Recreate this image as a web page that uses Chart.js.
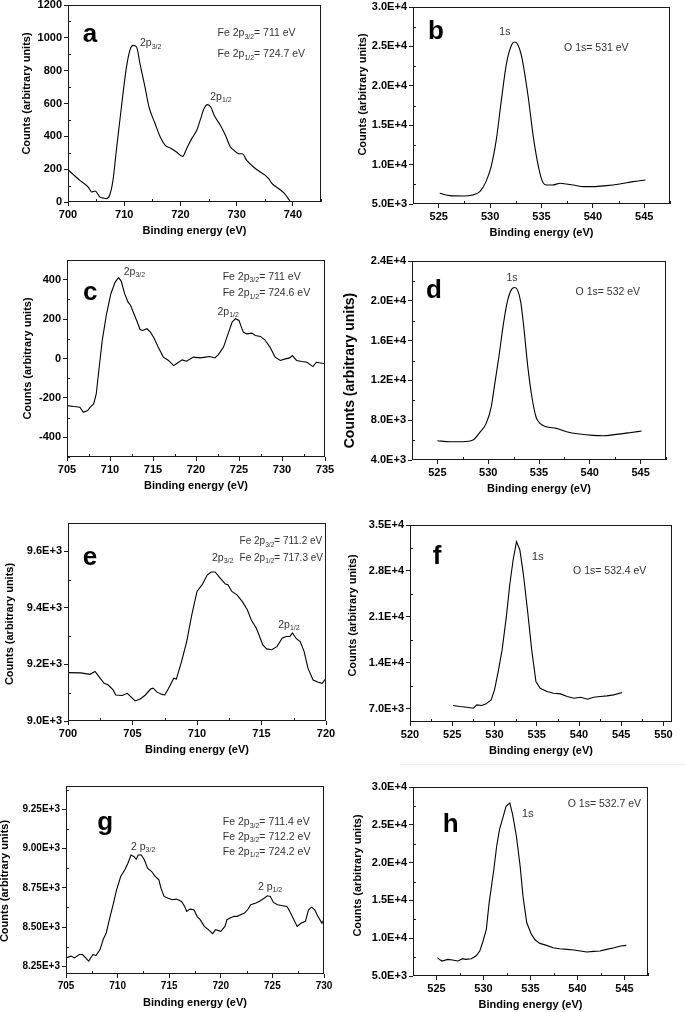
<!DOCTYPE html>
<html>
<head>
<meta charset="utf-8">
<script src="https://cdn.jsdelivr.net/npm/chart.js@4.4.1/dist/chart.umd.min.js"></script>
<style>
  html, body { margin: 0; padding: 0; background: #fff; }
  body { width: 685px; height: 1012px; position: relative; overflow: hidden; }
  canvas { position: absolute; }
  .rule { position: absolute; left: 400px; top: 764px; width: 285px; height: 1px; background: #ececec; }
</style>
</head>
<body>
<div class="rule"></div>
<script>
// XPS spectra, Fe 2p (left column) and O 1s (right column)
const FONT = '"Liberation Sans", Arial, sans-serif';

// a: Fe 2p
const aEnergy = [700,702.1,703.6,704.2,704.8,705.7,706.3,706.8,707.4,708,708.6,709.5,710.4,711.1,711.6,712.2,712.8,713.7,714.4,715.5,716.4,717.3,718.2,719.3,720.4,721.1,722,722.9,723.5,724.2,724.8,725.4,726,727.1,728,728.9,729.5,730.4,731,731.8,733,734.2,735.1,735.7,736.3,737.5,738.4,739.6];
const aCounts = [197,132,91,61,67,30,24,20,41,132,315,579,822,934,954,944,843,700,579,477,396,345,329,305,278,325,386,437,497,569,593,579,528,467,406,335,315,294,294,254,213,183,162,142,112,81,55,0];
const aXTicks = [700,710,720,730,740];
const aYTicks = [0,200,400,600,800,1000,1200];

// b: O 1s
const bEnergy = [525.1,526.1,527.4,528.3,529,529.6,530.1,530.6,531.1,531.6,532.1,532.4,532.7,533.1,533.7,534.2,534.7,535.1,535.5,536.1,536.8,537.4,538.1,539.1,540,541.3,542.6,543.9,545.1];
const bCounts = [6356,6059,6017,6144,6568,7839,9746,13135,18220,22880,25210,25550,25210,23515,18640,13560,9746,7839,7415,7415,7627,7542,7415,7203,7203,7330,7542,7839,8050];
const bXTicks = [525,530,535,540,545];
const bYTicks = [5000,10000,15000,20000,25000,30000];

// c: Fe 2p
const cEnergy = [705,705.8,706.5,706.9,707.4,707.7,708.1,708.4,708.7,709.1,709.6,710.1,710.6,711.0,711.3,711.7,712.1,712.4,712.7,713.1,713.5,713.8,714.3,714.7,715.1,715.6,716.2,716.8,717.4,717.8,718.4,718.9,719.7,720.5,721.1,721.6,722.2,722.6,723.2,723.8,724.2,724.6,725.0,725.2,725.5,725.9,726.5,726.9,727.5,728.0,728.6,729.2,729.8,730.4,730.9,731.2,731.7,732.3,732.9,733.6,734.0,735.0];
const cCounts = [-239,-244,-247,-273,-264,-247,-231,-180,-61,92,227,329,388,410,393,329,286,269,236,193,147,142,151,134,105,58,7,-10,-36,-24,-7,-14,7,3,7,10,3,20,58,134,185,202,193,168,134,125,129,117,112,95,58,7,-10,-2,3,15,-10,-15,-19,-41,-19,-27];
const cXTicks = [705,710,715,720,725,730,735];
const cYTicks = [-400,-200,0,200,400];

// d: O 1s
const dEnergy = [525,526.2,527.5,528.5,529.1,529.8,530.3,530.6,531.05,531.5,531.9,532.3,532.6,532.9,533.2,533.5,533.9,534.3,534.7,535.1,535.7,536.7,537.7,539.0,540.3,541.3,542.6,543.9,545.1];
const dCounts = [5940,5840,5840,6006,6675,7678,9350,11357,14366,17710,20000,21150,21330,21050,19900,17376,13363,10354,8347,7678,7344,7177,6842,6608,6474,6441,6575,6742,6909];
const dXTicks = [525,530,535,540,545];
const dYTicks = [4000,8000,12000,16000,20000,24000];

// e: Fe 2p
const eEnergy = [700,701,701.7,702.1,702.4,702.8,703.1,703.5,703.7,704.2,704.6,705.0,705.2,705.6,706.0,706.4,706.6,706.9,707.3,707.5,707.8,708.2,708.4,708.8,709.2,709.6,710.0,710.4,710.8,711.1,711.4,711.8,712.2,712.4,712.7,713.1,713.5,713.9,714.2,714.6,714.8,715.1,715.4,715.8,716.2,716.6,716.9,717.2,717.4,717.7,718.0,718.3,718.6,719.0,719.4,719.7,720.0];
const eCounts = [9171,9170,9165,9175,9157,9133,9128,9110,9092,9090,9098,9080,9071,9078,9092,9113,9116,9102,9094,9092,9116,9151,9148,9210,9281,9376,9458,9482,9517,9527,9527,9505,9484,9482,9458,9446,9423,9393,9358,9328,9305,9269,9255,9252,9263,9293,9299,9299,9311,9291,9281,9246,9187,9145,9137,9133,9151];
const eXTicks = [700,705,710,715,720];
const eYTicks = [9000,9200,9400,9600];

// f: O 1s
const fEnergy = [525.1,525.9,526.7,527.5,527.9,528.5,529.0,529.6,530.0,530.4,530.9,531.4,531.8,532.2,532.6,533.0,533.4,533.9,534.4,534.9,535.4,536.2,537.0,537.8,538.6,539.4,540.2,541.0,541.7,542.5,543.3,544.1,545.1];
const fCounts = [7507,7355,7254,7101,7609,7507,7761,8369,9891,12427,15977,21049,25868,29672,32462,31194,27643,22064,15977,11159,10145,9637,9384,9282,8877,8623,8775,8471,8775,8877,8978,9130,9485];
const fXTicks = [520,525,530,535,540,545,550];
const fYTicks = [7000,14000,21000,28000,35000];

// g: Fe 2p
const gEnergy = [705,705.5,705.8,706.3,706.6,706.9,707.2,707.6,707.9,708.3,708.6,708.9,709.2,709.6,709.9,710.3,710.7,711.0,711.3,711.6,711.8,712.0,712.3,712.6,712.9,713.3,713.6,714.0,714.2,714.5,714.9,715.3,715.7,716.2,716.5,716.7,717.0,717.4,717.7,718.0,718.4,718.8,719.2,719.5,720.0,720.4,720.6,720.9,721.3,721.6,721.9,722.3,722.6,722.9,723.4,723.7,724.2,724.5,724.8,725.1,725.5,726.0,726.4,726.6,727.0,727.4,727.8,728.2,728.5,728.8,729.1,729.4,729.8,730.0];
const gCounts = [8303,8314,8303,8324,8324,8303,8282,8324,8318,8356,8420,8462,8547,8653,8737,8822,8865,8907,8960,8949,8932,8960,8960,8928,8875,8854,8826,8801,8748,8695,8684,8674,8678,8663,8631,8600,8614,8610,8568,8547,8504,8483,8458,8483,8472,8504,8547,8557,8568,8568,8578,8589,8610,8642,8653,8663,8684,8699,8695,8657,8642,8636,8631,8610,8557,8504,8525,8536,8610,8627,8610,8568,8525,8547];
const gXTicks = [705,710,715,720,725,730];
const gYTicks = [8250,8500,8750,9000,9250];

// h: O 1s
const hEnergy = [525.1,525.3,525.6,526.2,526.7,527.25,527.8,528.1,528.7,529.2,529.6,529.9,530.3,530.6,531.1,531.4,531.7,532.1,532.4,532.8,533.1,533.5,533.9,534.2,534.6,535.1,535.5,536.0,536.7,537.4,538.1,538.9,539.6,540.3,541.0,541.7,542.4,543.1,543.9,544.6,545.2];
const hCounts = [7420,7200,6980,7200,7112,6980,7288,7200,7288,7641,8301,9401,11161,14682,19083,22164,24364,26125,27445,27885,26345,23484,19523,15562,12042,10501,9753,9313,9049,8741,8609,8521,8433,8301,8169,8257,8301,8521,8741,8961,9049];
const hXTicks = [525,530,535,540,545];
const hYTicks = [5000,10000,15000,20000,25000,30000];

const plain = v => String(v);
const exp1 = v => v.toExponential(1).toUpperCase();
const exp2 = v => v.toExponential(2).toUpperCase();

// text pieces: [text, isSubscript]
const fe = (sub, val) => [['Fe 2p',0],[sub,1],['= ' + val + ' eV',0]];
const pk = (pre, sub) => [[pre,0],[sub,1]];

// box = plot area in page pixels [left, top, right, bottom]
const panels = [
  { letter:'a', box:[68,5,321,202], xr:[700,745], yr:[0,1200], xs:aEnergy, ys:aCounts, xt:aXTicks, yt:aYTicks,
    xMinor:5, yMinor:100, fmt:plain, smooth:true, yt_dx:-41, yt_dy:-10, yt_size:11, letterAt:[703.9,1017],
    notes:[ {x:712.8,y:966,parts:pk('2p','3/2')}, {x:726.6,y:1027,parts:fe('3/2','711')},
            {x:726.6,y:899,parts:fe('1/2','724.7')}, {x:725.3,y:641,parts:pk('2p','1/2')} ] },
  { letter:'b', box:[413,7,670,204], xr:[522.5,547.5], yr:[5000,30000], xs:bEnergy, ys:bCounts, xt:bXTicks, yt:bYTicks,
    xMinor:2.5, yMinor:2500, fmt:exp1, smooth:true, yt_dx:-50, yt_dy:-11, yt_size:11, letterAt:[524.74,26866],
    notes:[ {x:530.9,y:26790,parts:[['1s',0]]}, {x:537.2,y:24835,parts:[['O 1s= 531 eV',0]]} ] },
  { letter:'c', box:[67,260,325,457], xr:[705,735], yr:[-500,500], xs:cEnergy, ys:cCounts, xt:cXTicks, yt:cYTicks,
    xMinor:2.5, yMinor:100, fmt:plain, smooth:false, yt_dx:-39, yt_dy:0, yt_size:11, letterAt:[707.7,332],
    notes:[ {x:711.6,y:439,parts:pk('2p','3/2')}, {x:723.1,y:414,parts:fe('3/2','711')},
            {x:723.1,y:331,parts:fe('1/2','724.6')}, {x:722.5,y:236,parts:pk('2p','1/2')} ] },
  { letter:'d', box:[412,261,666,460], xr:[522.5,547.5], yr:[4000,24000], xs:dEnergy, ys:dCounts, xt:dXTicks, yt:dYTicks,
    xMinor:2.5, yMinor:2000, fmt:exp1, smooth:true, yt_dx:-62, yt_dy:10, yt_size:14, letterAt:[524.67,21015],
    notes:[ {x:531.8,y:22261,parts:[['1s',0]]}, {x:538.6,y:20915,parts:[['O 1s= 532 eV',0]]} ] },
  { letter:'e', box:[68,523,326,721], xr:[700,720], yr:[9000,9700], xs:eEnergy, ys:eCounts, xt:eXTicks, yt:eYTicks,
    xMinor:2.5, yMinor:100, fmt:exp1, smooth:false, yt_dx:-58, yt_dy:2, yt_size:11, letterAt:[701.7,9576],
    notes:[ {x:711.16,y:9576,parts:pk('2p','3/2')}, {x:713.3,y:9634,parts:fe('3/2','711.2'),size:10},
            {x:713.3,y:9576,parts:fe('1/2','717.3'),size:10}, {x:716.3,y:9339,parts:pk('2p','1/2')} ] },
  { letter:'f', box:[410,525,672,722], xr:[520,551], yr:[5000,35000], xs:fEnergy, ys:fCounts, xt:fXTicks, yt:fYTicks,
    xMinor:2.5, yMinor:3500, fmt:exp1, smooth:false, yt_dx:-57, yt_dy:-8, yt_size:11, letterAt:[523.2,30171],
    notes:[ {x:534.4,y:30171,parts:[['1s',0]],size:11.5}, {x:539.3,y:27994,parts:[['O 1s= 532.4 eV',0]]} ] },
  { letter:'g', box:[66,786,324,974], xr:[705,730], yr:[8200,9400], xs:gEnergy, ys:gCounts, xt:gXTicks, yt:gYTicks,
    xMinor:2.5, yMinor:125, fmt:exp2, smooth:false, yt_dx:-61, yt_dy:1, yt_size:11, tickSize:10, letterAt:[708.8,9164],
    notes:[ {x:711.3,y:9010,parts:pk('2 p','3/2')}, {x:720.2,y:9168,parts:fe('3/2','711.4')},
            {x:720.2,y:9076,parts:fe('3/2','712.2')}, {x:720.2,y:8980,parts:fe('1/2','724.2')},
            {x:723.6,y:8757,parts:pk('2 p','1/2')} ] },
  { letter:'h', box:[413,787,648,976], xr:[522.5,547.5], yr:[5000,30000], xs:hEnergy, ys:hCounts, xt:hXTicks, yt:hYTicks,
    xMinor:2.5, yMinor:2500, fmt:exp1, smooth:false, yt_dx:-55, yt_dy:-6, yt_size:11, letterAt:[526.5,24974],
    notes:[ {x:534.06,y:26429,parts:[['1s',0]],size:11.5}, {x:538.96,y:27712,parts:[['O 1s= 532.7 eV',0]]} ] }
];

const PADL = 72, PADT = 12, PADR = 12, PADB = 42;

function drawRich(ctx, parts, px, py, size, color) {
  const subSize = size * 0.66;
  const fonts = parts.map(p => `${p[1] ? subSize : size}px ${FONT}`);
  ctx.textAlign = 'left';
  ctx.textBaseline = 'middle';
  ctx.fillStyle = color;
  let cx = px;
  parts.forEach((p, i) => {
    ctx.font = fonts[i];
    ctx.fillText(p[0], cx, py + (p[1] ? size * 0.32 : 0));
    cx += ctx.measureText(p[0]).width;
  });
}

function near(list, v) { return list.some(t => Math.abs(t - v) < 1e-6); }

function makeDecor(p) {
  return {
    id: 'decor' + p.letter,
    afterDraw(chart) {
      const { ctx, chartArea: a, scales: { x, y } } = chart;
      ctx.save();
      // frame
      ctx.strokeStyle = '#1a1a1a';
      ctx.lineWidth = 1;
      ctx.strokeRect(Math.round(a.left) + 0.5, Math.round(a.top) + 0.5,
                     Math.round(a.right - a.left) - 1, Math.round(a.bottom - a.top) - 1);
      // minor ticks, pointing into the plot
      ctx.beginPath();
      for (let k = Math.ceil(x.min / p.xMinor); k * p.xMinor <= x.max + 1e-9; k++) {
        const v = k * p.xMinor;
        if (near(p.xt, v)) continue;
        const px = Math.round(x.getPixelForValue(v)) + 0.5;
        ctx.moveTo(px, a.bottom); ctx.lineTo(px, a.bottom - 3);
      }
      for (let k = Math.ceil(y.min / p.yMinor); k * p.yMinor <= y.max + 1e-9; k++) {
        const v = k * p.yMinor;
        if (near(p.yt, v)) continue;
        const py = Math.round(y.getPixelForValue(v)) + 0.5;
        ctx.moveTo(a.left, py); ctx.lineTo(a.left + 3, py);
      }
      ctx.stroke();

      // axis titles
      ctx.fillStyle = '#000';
      ctx.textAlign = 'center';
      ctx.textBaseline = 'middle';
      ctx.font = `bold 11px ${FONT}`;
      ctx.fillText('Binding energy (eV)', (a.left + a.right) / 2, a.bottom + 29);
      ctx.save();
      ctx.translate(a.left + p.yt_dx, (a.top + a.bottom) / 2 + p.yt_dy);
      ctx.rotate(-Math.PI / 2);
      ctx.font = `bold ${p.yt_size}px ${FONT}`;
      ctx.fillText('Counts (arbitrary units)', 0, 0);
      ctx.restore();

      // panel letter
      ctx.font = `bold 26px ${FONT}`;
      ctx.fillStyle = '#000';
      ctx.textAlign = 'center';
      ctx.textBaseline = 'middle';
      ctx.fillText(p.letter, x.getPixelForValue(p.letterAt[0]), y.getPixelForValue(p.letterAt[1]));

      // peak notes
      p.notes.forEach(n => {
        drawRich(ctx, n.parts, x.getPixelForValue(n.x), y.getPixelForValue(n.y), n.size || 10.5, '#333');
      });
      ctx.restore();
    }
  };
}

panels.forEach(p => {
  const [L, T, R, B] = p.box;
  const cv = document.createElement('canvas');
  const w = (R - L) + PADL + PADR, h = (B - T) + PADT + PADB;
  cv.width = w; cv.height = h;
  cv.style.left = (L - PADL) + 'px';
  cv.style.top = (T - PADT) + 'px';
  cv.style.width = w + 'px'; cv.style.height = h + 'px';
  document.body.appendChild(cv);

  const tickFont = { family: FONT, size: p.tickSize || 11, weight: 'bold' };
  const axisCommon = {
    type: 'linear',
    grid: { drawOnChartArea: false, drawTicks: true, tickLength: 4, color: '#1a1a1a', tickWidth: 1 },
    border: { display: false },
  };

  new Chart(cv, {
    type: 'line',
    data: {
      datasets: [{
        data: p.xs.map((v, i) => ({ x: v, y: p.ys[i] })),
        borderColor: '#000',
        borderWidth: 1.1,
        pointRadius: 0,
        fill: false,
        cubicInterpolationMode: p.smooth ? 'monotone' : 'default',
        tension: 0
      }]
    },
    options: {
      responsive: false,
      animation: false,
      devicePixelRatio: 1,
      layout: { padding: { left: 0, top: PADT, right: PADR, bottom: 0 } },
      plugins: { legend: { display: false }, tooltip: { enabled: false } },
      scales: {
        x: Object.assign({}, axisCommon, {
          min: p.xr[0], max: p.xr[1],
          afterBuildTicks: s => { s.ticks = p.xt.map(v => ({ value: v })); },
          afterFit: s => { s.height = PADB; },
          ticks: { font: tickFont, color: '#000', padding: 2, maxRotation: 0, autoSkip: false, callback: v => String(v) }
        }),
        y: Object.assign({}, axisCommon, {
          min: p.yr[0], max: p.yr[1],
          afterBuildTicks: s => { s.ticks = p.yt.map(v => ({ value: v })); },
          afterFit: s => { s.width = PADL; },
          ticks: { font: tickFont, color: '#000', padding: 2, autoSkip: false, callback: v => p.fmt(v) }
        })
      }
    },
    plugins: [makeDecor(p)]
  });
});
</script>
</body>
</html>
